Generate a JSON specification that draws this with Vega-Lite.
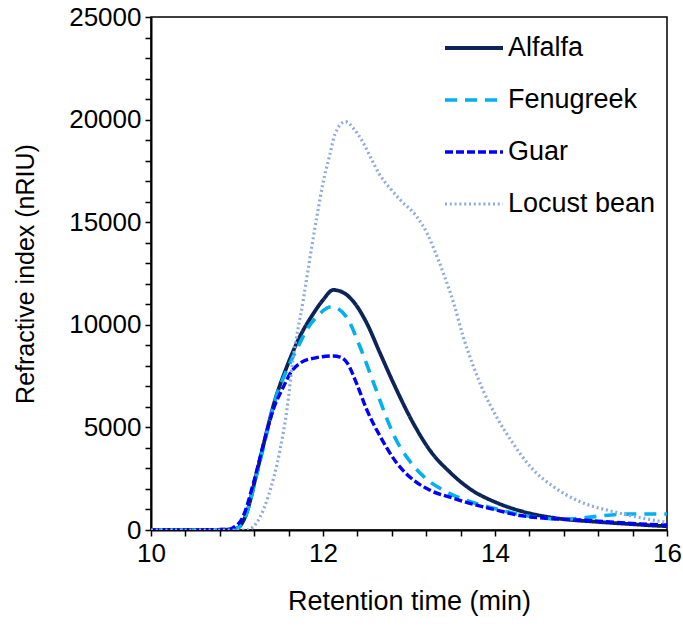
{
  "$schema": "https://vega.github.io/schema/vega-lite/v6.json",
  "width": 516,
  "height": 513,
  "autosize": {"type": "none"},
  "padding": {"left": 151, "top": 17, "right": 16, "bottom": 96},
  "background": "white",
  "config": {
    "font": "Liberation Sans",
    "view": {"stroke": "#000000", "strokeWidth": 1.5},
    "axis": {"labelColor": "#000000", "titleColor": "#000000", "domainColor": "#000000", "tickColor": "#000000", "grid": false, "titleFontWeight": "normal", "labelFont": "Liberation Sans", "titleFont": "Liberation Sans"},
    "legend": {"labelFont": "Liberation Sans", "labelColor": "#000000"}
  },
  "data": {
    "values": [
      {"series": "Alfalfa", "t": 10.0, "v": 0},
      {"series": "Alfalfa", "t": 10.5, "v": 0},
      {"series": "Alfalfa", "t": 10.9, "v": 20},
      {"series": "Alfalfa", "t": 11.0, "v": 80},
      {"series": "Alfalfa", "t": 11.11, "v": 810},
      {"series": "Alfalfa", "t": 11.23, "v": 2800},
      {"series": "Alfalfa", "t": 11.35, "v": 4870},
      {"series": "Alfalfa", "t": 11.42, "v": 6010},
      {"series": "Alfalfa", "t": 11.58, "v": 7960},
      {"series": "Alfalfa", "t": 11.73, "v": 9420},
      {"series": "Alfalfa", "t": 11.89, "v": 10560},
      {"series": "Alfalfa", "t": 12.0, "v": 11210},
      {"series": "Alfalfa", "t": 12.12, "v": 11700},
      {"series": "Alfalfa", "t": 12.24, "v": 11560},
      {"series": "Alfalfa", "t": 12.35, "v": 11150},
      {"series": "Alfalfa", "t": 12.51, "v": 10070},
      {"series": "Alfalfa", "t": 12.66, "v": 8650},
      {"series": "Alfalfa", "t": 12.82, "v": 7150},
      {"series": "Alfalfa", "t": 13.05, "v": 5200},
      {"series": "Alfalfa", "t": 13.24, "v": 3900},
      {"series": "Alfalfa", "t": 13.48, "v": 2800},
      {"series": "Alfalfa", "t": 13.71, "v": 2000},
      {"series": "Alfalfa", "t": 14.02, "v": 1330},
      {"series": "Alfalfa", "t": 14.33, "v": 890},
      {"series": "Alfalfa", "t": 14.72, "v": 570},
      {"series": "Alfalfa", "t": 15.18, "v": 400},
      {"series": "Alfalfa", "t": 15.57, "v": 290},
      {"series": "Alfalfa", "t": 15.96, "v": 195},
      {"series": "Alfalfa", "t": 16.0, "v": 190},

      {"series": "Fenugreek", "t": 10.0, "v": 0},
      {"series": "Fenugreek", "t": 10.5, "v": 0},
      {"series": "Fenugreek", "t": 10.9, "v": 20},
      {"series": "Fenugreek", "t": 11.0, "v": 80},
      {"series": "Fenugreek", "t": 11.11, "v": 800},
      {"series": "Fenugreek", "t": 11.23, "v": 2700},
      {"series": "Fenugreek", "t": 11.35, "v": 4800},
      {"series": "Fenugreek", "t": 11.46, "v": 6550},
      {"series": "Fenugreek", "t": 11.58, "v": 7800},
      {"series": "Fenugreek", "t": 11.73, "v": 9100},
      {"series": "Fenugreek", "t": 11.81, "v": 9750},
      {"series": "Fenugreek", "t": 11.93, "v": 10400},
      {"series": "Fenugreek", "t": 12.1, "v": 10880},
      {"series": "Fenugreek", "t": 12.27, "v": 10400},
      {"series": "Fenugreek", "t": 12.43, "v": 8930},
      {"series": "Fenugreek", "t": 12.59, "v": 7150},
      {"series": "Fenugreek", "t": 12.74, "v": 5450},
      {"series": "Fenugreek", "t": 12.82, "v": 4650},
      {"series": "Fenugreek", "t": 13.01, "v": 3350},
      {"series": "Fenugreek", "t": 13.2, "v": 2500},
      {"series": "Fenugreek", "t": 13.44, "v": 1850},
      {"series": "Fenugreek", "t": 13.63, "v": 1500},
      {"series": "Fenugreek", "t": 14.02, "v": 1020},
      {"series": "Fenugreek", "t": 14.41, "v": 660},
      {"series": "Fenugreek", "t": 14.8, "v": 530},
      {"series": "Fenugreek", "t": 14.99, "v": 570},
      {"series": "Fenugreek", "t": 15.26, "v": 700},
      {"series": "Fenugreek", "t": 15.57, "v": 780},
      {"series": "Fenugreek", "t": 16.0, "v": 780},

      {"series": "Guar", "t": 10.0, "v": 0},
      {"series": "Guar", "t": 10.5, "v": 0},
      {"series": "Guar", "t": 10.9, "v": 30},
      {"series": "Guar", "t": 10.95, "v": 100},
      {"series": "Guar", "t": 11.07, "v": 650},
      {"series": "Guar", "t": 11.19, "v": 2270},
      {"series": "Guar", "t": 11.31, "v": 4220},
      {"series": "Guar", "t": 11.42, "v": 5850},
      {"series": "Guar", "t": 11.54, "v": 6980},
      {"series": "Guar", "t": 11.62, "v": 7640},
      {"series": "Guar", "t": 11.73, "v": 8120},
      {"series": "Guar", "t": 11.9, "v": 8380},
      {"series": "Guar", "t": 12.12, "v": 8480},
      {"series": "Guar", "t": 12.2, "v": 8430},
      {"series": "Guar", "t": 12.28, "v": 8150},
      {"series": "Guar", "t": 12.39, "v": 7150},
      {"series": "Guar", "t": 12.51, "v": 5850},
      {"series": "Guar", "t": 12.66, "v": 4600},
      {"series": "Guar", "t": 12.86, "v": 3250},
      {"series": "Guar", "t": 13.05, "v": 2440},
      {"series": "Guar", "t": 13.24, "v": 1950},
      {"series": "Guar", "t": 13.52, "v": 1540},
      {"series": "Guar", "t": 13.83, "v": 1160},
      {"series": "Guar", "t": 14.02, "v": 975},
      {"series": "Guar", "t": 14.21, "v": 770},
      {"series": "Guar", "t": 14.6, "v": 570},
      {"series": "Guar", "t": 14.99, "v": 490},
      {"series": "Guar", "t": 15.38, "v": 375},
      {"series": "Guar", "t": 15.96, "v": 245},
      {"series": "Guar", "t": 16.0, "v": 240},

      {"series": "Locust bean", "t": 10.0, "v": 0},
      {"series": "Locust bean", "t": 11.0, "v": 0},
      {"series": "Locust bean", "t": 11.11, "v": 0},
      {"series": "Locust bean", "t": 11.27, "v": 650},
      {"series": "Locust bean", "t": 11.36, "v": 1600},
      {"series": "Locust bean", "t": 11.5, "v": 3900},
      {"series": "Locust bean", "t": 11.58, "v": 5850},
      {"series": "Locust bean", "t": 11.65, "v": 8280},
      {"series": "Locust bean", "t": 11.77, "v": 11200},
      {"series": "Locust bean", "t": 11.85, "v": 13300},
      {"series": "Locust bean", "t": 11.93, "v": 15300},
      {"series": "Locust bean", "t": 12.0, "v": 16900},
      {"series": "Locust bean", "t": 12.08, "v": 18300},
      {"series": "Locust bean", "t": 12.14, "v": 19300},
      {"series": "Locust bean", "t": 12.26, "v": 19900},
      {"series": "Locust bean", "t": 12.37, "v": 19490},
      {"series": "Locust bean", "t": 12.45, "v": 19000},
      {"series": "Locust bean", "t": 12.55, "v": 18190},
      {"series": "Locust bean", "t": 12.65, "v": 17380},
      {"series": "Locust bean", "t": 12.78, "v": 16650},
      {"series": "Locust bean", "t": 12.9, "v": 16080},
      {"series": "Locust bean", "t": 13.09, "v": 15270},
      {"series": "Locust bean", "t": 13.21, "v": 14460},
      {"series": "Locust bean", "t": 13.28, "v": 13800},
      {"series": "Locust bean", "t": 13.4, "v": 12510},
      {"series": "Locust bean", "t": 13.52, "v": 11050},
      {"series": "Locust bean", "t": 13.63, "v": 9420},
      {"series": "Locust bean", "t": 13.75, "v": 7960},
      {"series": "Locust bean", "t": 13.86, "v": 6820},
      {"series": "Locust bean", "t": 14.02, "v": 5500},
      {"series": "Locust bean", "t": 14.21, "v": 4220},
      {"series": "Locust bean", "t": 14.41, "v": 3090},
      {"series": "Locust bean", "t": 14.68, "v": 2110},
      {"series": "Locust bean", "t": 14.99, "v": 1380},
      {"series": "Locust bean", "t": 15.38, "v": 890},
      {"series": "Locust bean", "t": 15.73, "v": 570},
      {"series": "Locust bean", "t": 15.96, "v": 400},
      {"series": "Locust bean", "t": 16.0, "v": 380}
    ]
  },
  "mark": {"type": "line", "interpolate": "monotone", "clip": true},
  "encoding": {
    "x": {
      "field": "t", "type": "quantitative",
      "scale": {"domain": [10, 16], "nice": false, "zero": false},
      "axis": {
        "title": "Retention time (min)",
        "values": [10, 10.4, 10.8, 11.2, 11.6, 12, 12.4, 12.8, 13.2, 13.6, 14, 14.4, 14.8, 15.2, 15.6, 16],
        "tickCount": 200,
        "labelExpr": "abs(datum.value - round(datum.value / 2) * 2) < 0.001 ? format(datum.value, 'd') : ''",
        "labelFontSize": 26, "titleFontSize": 27,
        "tickSize": 6, "tickWidth": 1.5, "domainWidth": 2,
        "labelPadding": 4, "titlePadding": 22, "labelFlush": false, "labelOverlap": false
      }
    },
    "y": {
      "field": "v", "type": "quantitative",
      "scale": {"domain": [0, 25000], "nice": false},
      "axis": {
        "title": "Refractive index (nRIU)",
        "values": [0, 1000, 2000, 3000, 4000, 5000, 6000, 7000, 8000, 9000, 10000, 11000, 12000, 13000, 14000, 15000, 16000, 17000, 18000, 19000, 20000, 21000, 22000, 23000, 24000, 25000],
        "tickCount": 200,
        "labelExpr": "datum.value % 5000 === 0 ? format(datum.value, 'd') : ''",
        "labelFontSize": 26, "titleFontSize": 25,
        "tickSize": 6, "tickWidth": 1.5, "domainWidth": 2,
        "labelPadding": 4, "titlePadding": 30, "labelFlush": false, "labelOverlap": false
      }
    },
    "color": {
      "field": "series", "type": "nominal",
      "scale": {"domain": ["Alfalfa", "Fenugreek", "Guar", "Locust bean"], "range": ["#0D2459", "#00B0F0", "#0000FF", "#8FAADC"]},
      "legend": {
        "title": null, "orient": "none", "legendX": 292, "legendY": 0,
        "symbolType": "stroke", "symbolSize": 3364, "symbolStrokeWidth": 3.5,
        "labelFontSize": 27, "labelOffset": 3, "rowPadding": 8, "labelLimit": 300
      }
    },
    "strokeDash": {
      "field": "series", "type": "nominal",
      "scale": {"domain": ["Alfalfa", "Fenugreek", "Guar", "Locust bean"], "range": [[1, 0], [12, 8], [8, 3], [2, 2.8]]},
      "legend": {
        "title": null, "orient": "none", "legendX": 292, "legendY": 0,
        "symbolType": "stroke", "symbolSize": 3364, "symbolStrokeWidth": 3.5,
        "labelFontSize": 27, "labelOffset": 3, "rowPadding": 8, "labelLimit": 300
      }
    },
    "strokeWidth": {
      "field": "series", "type": "nominal",
      "scale": {"domain": ["Alfalfa", "Fenugreek", "Guar", "Locust bean"], "range": [3.8, 3.2, 3.2, 2.6]},
      "legend": null
    }
  }
}
